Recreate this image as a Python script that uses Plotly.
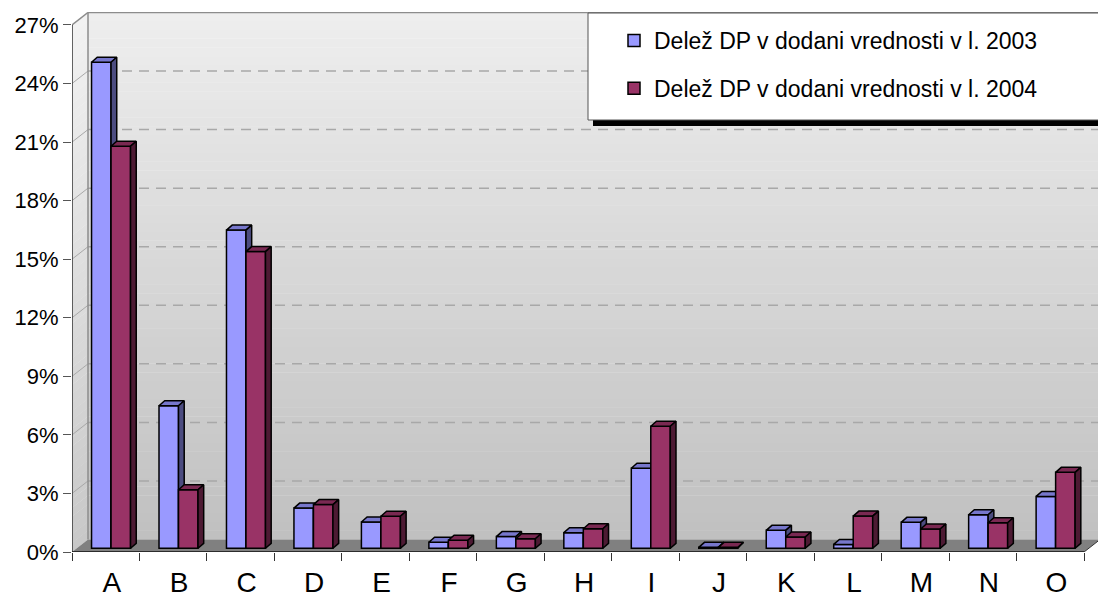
import plotly.graph_objects as go

# ---------------- data ----------------
categories = ["A", "B", "C", "D", "E", "F", "G", "H", "I", "J", "K", "L", "M", "N", "O"]
share_2003 = [24.9, 7.3, 16.3, 2.06, 1.35, 0.31, 0.60, 0.80, 4.10, 0.05, 0.92, 0.20, 1.33, 1.72, 2.66]
share_2004 = [20.6, 3.0, 15.2, 2.24, 1.64, 0.41, 0.49, 1.00, 6.25, 0.05, 0.58, 1.65, 0.99, 1.31, 3.89]
series_names = ["Delež DP v dodani vrednosti v l. 2003",
                "Delež DP v dodani vrednosti v l. 2004"]
y_ticks = [0, 3, 6, 9, 12, 15, 18, 21, 24, 27]
y_tick_labels = [f"{v}%" for v in y_ticks]

# ---------------- geometry / style ----------------
PAGE_OFF = 8            # default page margin of the html body
W, H = 1106 - PAGE_OFF, 600 - PAGE_OFF
ML, MR, MT = 72 - PAGE_OFF, 3, 12 - PAGE_OFF
PX_CAT = 67.47          # pixels per category
PX_PCT = 19.52          # pixels per percent
plot_w = W - ML - MR
plot_h = 540
MB = H - MT - plot_h
x_range = [-0.5, -0.5 + plot_w / PX_CAT]
y_range = [0, plot_h / PX_PCT]
n_cat = len(categories)
x_pos = list(range(n_cat))
y_top = y_ticks[-1]

wall_dx = 16 / PX_CAT
wall_dy = 12.5 / PX_PCT
bar_w = 19.5 / PX_CAT
bar_off = -14.2 / PX_CAT
bar_base = 3.7 / PX_PCT
d_dx = 5.7 / PX_CAT
d_dy = 5.0 / PX_PCT

FONT = "Liberation Sans, Arial, sans-serif"
colors = {
    "front": ["#9999FF", "#993366"],
    "top": ["#7777CC", "#7A2952"],
    "side": ["#4C4C80", "#4D1A33"],
}


def lerp(c0, c1, t):
    return "rgb({},{},{})".format(*[round(a + (b - a) * t) for a, b in zip(c0, c1)])


def face_polys(values, offset, kind):
    xs, ys = [], []
    for xc, v in zip(x_pos, values):
        xl = xc + offset
        xr = xl + bar_w
        b = bar_base
        t = bar_base + v
        if kind == "top":
            pts = [(xl, t), (xr, t), (xr + d_dx, t + d_dy), (xl + d_dx, t + d_dy)]
        else:
            pts = [(xr, b), (xr + d_dx, b + d_dy), (xr + d_dx, t + d_dy), (xr, t)]
        pts.append(pts[0])
        xs += [p[0] for p in pts] + [None]
        ys += [p[1] for p in pts] + [None]
    return xs, ys


fig = go.Figure()
series = [share_2003, share_2004]
offsets = [bar_off, bar_off + bar_w]
axes = [("x", "y"), ("x2", "y2")]
for i, vals in enumerate(series):
    xa, ya = axes[i]
    fig.add_trace(go.Bar(
        x=x_pos, y=vals, base=bar_base, offset=offsets[i], width=bar_w,
        name=series_names[i], legendgroup=f"g{i}",
        marker=dict(color=colors["front"][i], line=dict(color="black", width=1.5)),
        xaxis=xa, yaxis=ya, hoverinfo="skip",
    ))
    for kind in ("top", "side"):
        fx, fy = face_polys(vals, offsets[i], kind)
        fig.add_trace(go.Scatter(
            x=fx, y=fy, mode="lines", fill="toself",
            fillcolor=colors[kind][i], line=dict(color="black", width=1.5),
            showlegend=False, hoverinfo="skip", xaxis=xa, yaxis=ya,
        ))

shapes = []
# back wall gradient
N = 60
c_bot, c_top = (192, 192, 192), (238, 238, 238)
for k in range(N):
    y0 = wall_dy + k * y_top / N
    y1 = wall_dy + (k + 1) * y_top / N + 0.02
    shapes.append(dict(type="rect", xref="x", yref="y", layer="below",
                       x0=-0.5 + wall_dx, x1=n_cat - 0.5 + wall_dx, y0=y0, y1=min(y1, y_top + wall_dy),
                       fillcolor=lerp(c_bot, c_top, (k + 0.5) / N), line=dict(width=0)))
# left wall gradient
c_bot2, c_top2 = (200, 200, 200), (242, 242, 242)
for k in range(N):
    y0 = k * y_top / N
    y1 = min((k + 1) * y_top / N + 0.02, y_top)
    x0, x1 = -0.5, -0.5 + wall_dx
    path = f"M {x0},{y0} L {x1},{y0 + wall_dy} L {x1},{y1 + wall_dy} L {x0},{y1} Z"
    shapes.append(dict(type="path", xref="x", yref="y", layer="below", path=path,
                       fillcolor=lerp(c_bot2, c_top2, (k + 0.5) / N), line=dict(width=0)))
# floor
fx0, fx1 = -0.5, n_cat - 0.5
shapes.append(dict(type="path", xref="x", yref="y", layer="below",
                   path=f"M {fx0},0 L {fx1},0 L {fx1 + wall_dx},{wall_dy} L {fx0 + wall_dx},{wall_dy} Z",
                   fillcolor="#808080", line=dict(width=0)))
# gridlines
for v in y_ticks[1:-1]:
    shapes.append(dict(type="line", xref="x", yref="y", layer="below",
                       x0=-0.5 + wall_dx, x1=n_cat - 0.5 + wall_dx, y0=v + wall_dy, y1=v + wall_dy,
                       line=dict(color="#A8A8A8", width=1.5, dash="10px,7px")))
    shapes.append(dict(type="line", xref="x", yref="y", layer="below",
                       x0=-0.5, x1=-0.5 + wall_dx, y0=v, y1=v + wall_dy,
                       line=dict(color="#A8A8A8", width=1)))
# wall borders
wb = dict(color="#8C8C8C", width=1.5)
shapes += [
    dict(type="line", xref="x", yref="y", layer="below", x0=-0.5 + wall_dx, x1=-0.5 + wall_dx,
         y0=wall_dy, y1=y_top + wall_dy, line=wb),
    dict(type="line", xref="x", yref="y", layer="below", x0=-0.5 + wall_dx, x1=n_cat - 0.5 + wall_dx,
         y0=y_top + wall_dy, y1=y_top + wall_dy, line=wb),
    dict(type="line", xref="x", yref="y", layer="below", x0=n_cat - 0.5 + wall_dx, x1=n_cat - 0.5 + wall_dx,
         y0=wall_dy, y1=y_top + wall_dy, line=wb),
    dict(type="line", xref="x", yref="y", layer="below", x0=-0.5, x1=-0.5 + wall_dx,
         y0=y_top, y1=y_top + wall_dy, line=wb),
    dict(type="line", xref="x", yref="y", layer="below", x0=n_cat - 0.5, x1=n_cat - 0.5 + wall_dx,
         y0=0, y1=wall_dy, line=dict(color="#333333", width=1)),
    # front axes
    dict(type="line", xref="x", yref="y", layer="below", x0=-0.5, x1=-0.5, y0=0, y1=y_top,
         line=dict(color="#333333", width=1.5)),
    dict(type="line", xref="x", yref="y", layer="below", x0=-0.5, x1=n_cat - 0.5, y0=0, y1=0,
         line=dict(color="#111111", width=1.5)),
]


def px_x(p):
    return (p - PAGE_OFF - ML) / plot_w


def px_y(p):
    return 1 - (p - PAGE_OFF - MT) / plot_h


# legend box + shadow (page pixel positions)
shapes.append(dict(type="rect", xref="paper", yref="paper", layer="above",
                   x0=px_x(593), x1=px_x(1130), y0=px_y(126), y1=px_y(19),
                   fillcolor="black", line=dict(width=0)))
shapes.append(dict(type="rect", xref="paper", yref="paper", layer="above",
                   x0=px_x(588), x1=px_x(1125), y0=px_y(120), y1=px_y(13),
                   fillcolor="white", line=dict(color="#555555", width=1)))

fig.update_layout(
    width=W, height=H,
    margin=dict(l=ML, r=MR, t=MT, b=MB, autoexpand=False),
    paper_bgcolor="white", plot_bgcolor="white",
    font=dict(family=FONT, color="black"),
    showlegend=True,
    legend=dict(x=px_x(614), y=px_y(19), xanchor="left", yanchor="top",
                bgcolor="rgba(0,0,0,0)", borderwidth=0,
                traceorder="grouped", tracegroupgap=15,
                font=dict(family=FONT, size=23, color="black")),
    shapes=shapes,
    xaxis=dict(range=x_range, tickmode="array", tickvals=x_pos, ticktext=categories,
               ticks="", showgrid=False, zeroline=False, showline=False,
               tickfont=dict(size=28), ticklabelshift=6, ticklabelstandoff=11,
               minor=dict(tickmode="array", tickvals=[i - 0.5 for i in range(n_cat + 1)],
                          ticks="outside", ticklen=8, tickcolor="#333333", tickwidth=1.2,
                          showgrid=False)),
    yaxis=dict(range=y_range, tickmode="array", tickvals=y_ticks, ticktext=y_tick_labels,
               ticks="outside", ticklen=8, tickcolor="#555555", tickwidth=1.2,
               showgrid=False, zeroline=False, showline=False,
               tickfont=dict(size=22)),
    xaxis2=dict(range=x_range, overlaying="x", visible=False, anchor="y2"),
    yaxis2=dict(range=y_range, overlaying="y", visible=False, anchor="x2"),
)

fig.write_html("out.html")
